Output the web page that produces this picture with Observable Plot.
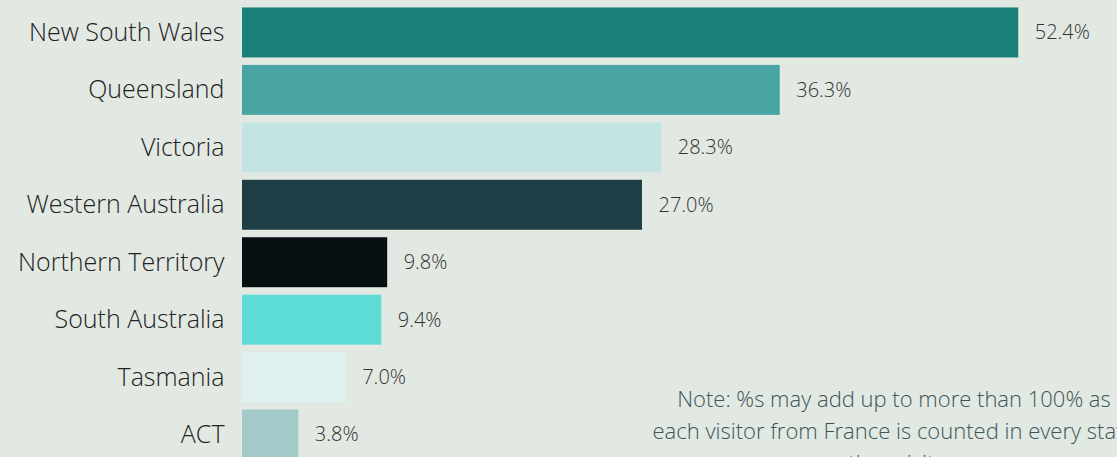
<!DOCTYPE html>
<html>
<head>
<meta charset="utf-8">
<script src="https://cdn.jsdelivr.net/npm/d3@7"></script>
<script src="https://cdn.jsdelivr.net/npm/@observablehq/plot@0.6"></script>
<style>
  html, body { margin: 0; padding: 0; background: #e2e8e2; overflow: hidden; }
  #wrap { position: relative; width: 1117px; height: 457px; overflow: hidden; }
  #note {
    position: absolute; left: 544px; width: 700px; top: 382px;
    text-align: center; font-family: "Open Sans", sans-serif; font-weight: 300;
    font-size: 22px; line-height: 32px; color: #3d5558; white-space: nowrap;
  }
</style>
</head>
<body>
<div id="wrap"><div id="chart"></div>
<div id="note">Note: %s may add up to more than 100% as<br>each visitor from France is counted in every state<br>they visit.</div>
</div>
<script>
const states = ["New South Wales", "Queensland", "Victoria", "Western Australia", "Northern Territory", "South Australia", "Tasmania", "ACT"];
const shares = [52.4, 36.3, 28.3, 27.0, 9.8, 9.4, 7.0, 3.8];
const barColors = ["#1b7f79", "#48a5a3", "#c2e4e3", "#1e3e46", "#070f11", "#5edcd7", "#dff2f0", "#a3c9c8"];

const data = states.map((s, i) => ({state: s, value: shares[i], color: barColors[i]}));

const chart = Plot.plot({
  width: 1117,
  height: 467,
  marginLeft: 242,
  marginRight: 1,
  marginTop: 0,
  marginBottom: 0,
  style: {background: "transparent", fontFamily: "'Open Sans', sans-serif", fontWeight: 300, color: "#222"},
  x: {domain: [0, 59], axis: null},
  y: {domain: states, padding: 0.13, round: false, label: null},
  marks: [
    Plot.barX(data, {x: "value", y: "state", fill: "color"}),
    Plot.text(data, {x: "value", y: "state", text: d => d.value.toFixed(1) + "%", dx: 16, textAnchor: "start", fontSize: 20, fill: "#333"}),
    Plot.axisY({tickSize: 0, tickPadding: 18, fontSize: 25, label: null})
  ]
});
document.getElementById("chart").appendChild(chart);
</script>
</body>
</html>
